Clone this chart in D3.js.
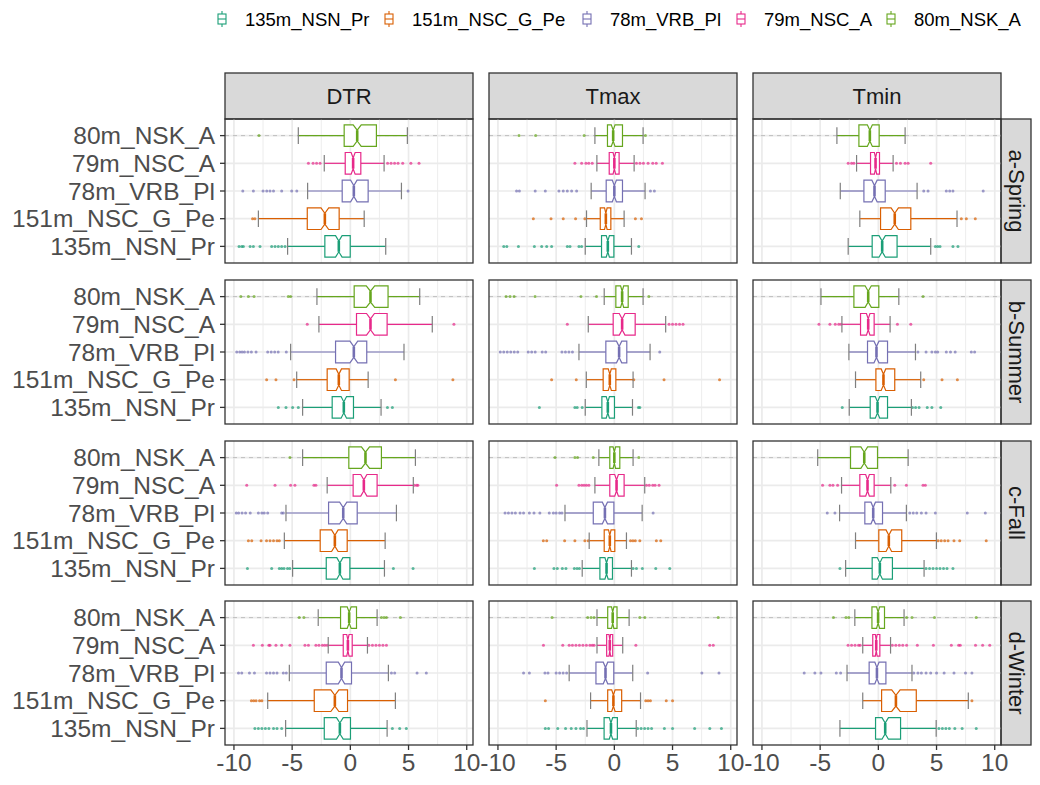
<!DOCTYPE html>
<html>
<head>
<meta charset="utf-8">
<script src="https://cdn.jsdelivr.net/npm/d3@7"></script>
<style>
  body { margin: 0; background: #fff; }
  text { font-family: "Liberation Sans", Arial, sans-serif; }
</style>
</head>
<body>
<div id="chart"></div>
<script>
// stations (bottom -> top on the y axis), facets and palette
var stations = ["135m_NSN_Pr", "151m_NSC_G_Pe", "78m_VRB_Pl", "79m_NSC_A", "80m_NSK_A"];
var variables = ["DTR", "Tmax", "Tmin"];
var seasons = ["a-Spring", "b-Summer", "c-Fall", "d-Winter"];
var colors = ["#1B9E77", "#D95F02", "#7570B3", "#E7298A", "#66A61E"];
var xTicks = [-10, -5, 0, 5, 10];
var nObs = [150, 170, 160, 150, 160]; // used for notch width, like ggplot

// box stats [lower whisker, q1, median, q3, upper whisker], per variable then station
var springStats = [
  [[-5.39, -2.19, -0.99, -0.01, 3.04], [-7.9, -3.7, -2.19, -0.96, 1.19], [-3.67, -0.7, 0.3, 1.53, 4.39], [-2.24, -0.44, 0.24, 0.9, 2.9], [-4.47, -0.53, 0.59, 2.24, 4.9]],
  [[-2.5, -1.1, -0.56, -0.04, 1.47], [-2.39, -1.21, -0.73, -0.3, 0.84], [-1.99, -0.7, 0, 0.7, 2.64], [-1.5, -0.44, 0, 0.41, 1.7], [-1.67, -0.59, -0.1, 0.7, 2.47]],
  [[-2.59, -0.53, 0.33, 1.61, 4.5], [-1.59, 0.19, 1.41, 2.79, 6.76], [-3.27, -1.24, -0.33, 0.59, 3.33], [-1.87, -0.67, -0.24, 0.1, 1.27], [-3.56, -1.67, -0.73, 0.07, 2.3]]
];
var summerStats = [
  [[-4.1, -1.56, -0.56, 0.27, 2.64], [-4.61, -1.99, -0.99, -0.1, 1.53], [-5.13, -1.27, 0.3, 1.41, 4.61], [-2.7, 0.53, 1.73, 3.16, 7.04], [-2.87, 0.33, 1.73, 3.24, 5.96]],
  [[-2.5, -1.07, -0.56, 0.01, 1.56], [-2.41, -0.96, -0.39, 0.13, 1.61], [-3.04, -0.73, 0.41, 1.07, 3.07], [-2.24, -0.1, 0.67, 1.79, 4.41], [-0.87, 0.13, 0.67, 1.19, 2.47]],
  [[-2.5, -0.7, -0.07, 0.79, 2.84], [-1.96, -0.21, 0.44, 1.41, 3.64], [-2.53, -0.93, -0.16, 0.79, 3.19], [-3.13, -1.53, -0.87, -0.36, 1.01], [-4.93, -2.1, -0.87, 0.04, 1.76]]
];
var fallStats = [
  [[-4.96, -2.07, -0.9, -0.04, 2.93], [-5.67, -2.59, -1.33, -0.27, 2.99], [-5.53, -1.87, -0.61, 0.59, 3.96], [-1.99, 0.24, 1.16, 2.3, 5.41], [-4.1, -0.13, 1.3, 2.67, 5.59]],
  [[-2.76, -1.24, -0.67, -0.16, 1.47], [-2.16, -0.87, -0.39, 0.04, 1.04], [-4.24, -1.81, -0.81, -0.04, 2.39], [-1.67, -0.39, 0.19, 0.84, 2.61], [-1.33, -0.39, 0, 0.47, 1.61]],
  [[-2.81, -0.53, 0.13, 1.21, 3.93], [-1.96, 0.04, 0.9, 2.01, 4.99], [-3.33, -1.16, -0.44, 0.36, 2.41], [-3.16, -1.59, -0.93, -0.36, 1.07], [-5.21, -2.39, -1.21, -0.07, 2.56]]
];
var winterStats = [
  [[-5.56, -2.24, -0.9, 0.01, 3.16], [-7.1, -3.1, -1.33, -0.24, 3.87], [-5.24, -2.07, -0.76, 0.1, 3.27], [-1.9, -0.61, -0.21, 0.16, 1.47], [-2.76, -0.84, -0.1, 0.53, 2.3]],
  [[-2.35, -0.88, -0.29, 0.26, 1.88], [-2.04, -0.57, -0.08, 0.63, 2.25], [-3.88, -1.58, -0.76, -0.05, 1.58], [-1.49, -0.66, -0.39, -0.14, 0.72], [-1.49, -0.57, -0.14, 0.23, 1.27]],
  [[-3.3, -0.24, 0.59, 1.91, 4.97], [-1.34, 0.28, 1.51, 3.26, 7.73], [-2.69, -0.79, -0.12, 0.65, 2.89], [-1.34, -0.48, -0.18, 0.13, 1.05], [-2.02, -0.55, -0.02, 0.53, 2.21]]
];

// outliers, per variable then station
var springOut = [
  [[-9.56, -9.33, -9.19, -8.61, -8.33, -7.76, -6.76, -6.47, -6.19, -5.9, -5.61], [-8.4, -8.2], [-9.24, -8.33, -7.5, -7.18, -6.9, -6.6, -5.9, -5.04, -4.6, 4.96], [-3.6, -3.2, -2.9, -2.6, 3.2, 3.5, 3.8, 4.1, 4.5, 5.2, 5.9], [-7.85]],
  [[-9.5, -9.24, -8.24, -6.87, -6.24, -5.81, -5.39, -4.04, -3.81, -3.04, -2.81, 2.1], [-6.96, -5.44, -4.39, -3.33, -2.53, 1.81, 2.33], [-8.4, -8.16, -6.8, -5.93, -4.76, -4.39, -4.04, -3.67, -3.24, 3.1, 3.44], [-3.39, -2.81, -2.44, -2.2, -1.9, 1.9, 2.2, 2.5, 2.9, 3.3, 3.6, 4.13], [-8.19, -6.76, -2.59, 2.67]],
  [[4.9, 5.1, 5.3, 6.41, 6.84], [7.13, 7.56, 8.33], [3.9, 4.27, 5.84, 6.13, 6.41, 9.01], [-2.59, -2.3, -2.1, 1.56, 1.9, 2.3, 2.56, 4.5], []]
];
var summerOut = [
  [[-6.19, -5.53, -4.96, -4.47, 3.19, 3.61], [-7.19, -6.39, -4.84, 3.87, 8.81], [-9.76, -9.5, -9.3, -9.1, -8.8, -8.5, -8.1, -7.1, -6.8, -6.5, -6.2, -5.5], [-3.7, 8.9], [-9.41, -8.76, -8.27, -5.33, -5.13]],
  [[-6.44, -3.39, -3.19, -2.76, 2.07, 2.19], [-5.39, -3.27, 1.67, 4.27, 9.04], [-9.8, -9.5, -9.2, -8.9, -8.6, -8.3, -7.4, -7.1, -6.8, -6.2, -5.9, -4.5, -4.2, -3.9, -3.6, 3.9], [-4.04, 4.7, 5.0, 5.3, 5.6, 5.9], [-9.3, -8.96, -8.61, -6.81, -2.87, -1.53, 2.96]],
  [[-3.1, 2.93, 3.2, 3.5, 4.2, 4.6, 5.36], [3.9, 5.47, 6.79], [3.4, 4.1, 4.6, 4.9, 5.1, 5.84, 6.2, 6.6, 7.99, 8.27], [-5.1, -4.16, -3.7, -3.4, -3.2, 1.64, 2.79], [3.84]]
];
var fallOut = [
  [[-8.84, -6.76, -6.1, -5.9, -5.7, -5.4, -5.2, 3.7, 5.39], [-8.76, -8.47, -7.67, -7.2, -6.9, -6.6, -6.3, -6.1], [-9.8, -9.6, -9.3, -9.0, -8.6, -7.9, -7.6, -7.4, -7.1, -5.9, -5.76], [-8.9, -6.47, -5.13, -4.76, -3.13, -2.96, 5.5, 5.7, 5.8], [-5.19]],
  [[-6.87, -5.19, -4.9, -4.47, -4.16, -3.44, -3.2, -3.0, 1.61, 1.9, 2.41, 3.56, 4.76], [-6.1, -5.81, -4.27, -3.39, -2.53, -2.24, 1.39, 1.6, 1.8, 2.19, 3.61, 3.99], [-9.39, -9.1, -8.8, -8.5, -8.1, -7.8, -7.3, -6.9, -6.4, -5.59, -5.24, -5.0, -4.7, -4.5, 3.33], [-4.96, -3.04, -2.8, -2.6, -2.4, -2.19, 2.76, 3.0, 3.3, 3.5, 3.84], [-5.1, -3.39, -3.16, -1.81, 2.1]],
  [[-3.3, 4.1, 4.4, 4.7, 5.0, 5.3, 5.6, 5.9, 6.41], [5.13, 5.4, 5.7, 5.99, 6.5, 6.99, 9.27], [-4.39, -3.73, 2.7, 3.0, 3.3, 3.7, 4.1, 4.9, 7.64, 9.19], [-4.79, -4.16, -3.9, -3.5, 1.41, 2.41, 3.84, 4.04], []]
];
var winterOut = [
  [[-8.2, -7.9, -7.6, -7.3, -7.0, -6.6, -6.3, -5.9, 3.61, 4.24, 4.81], [-8.5, -8.3, -8.1, -7.8, -7.6], [-9.61, -9.33, -8.67, -8.24, -7.2, -6.9, -6.6, -6.3, -5.76, -5.5, 3.53, 3.81, 5.73, 6.53], [-8.33, -7.56, -7.0, -6.9, -6.39, -5.9, -5.19, -3.9, -3.6, -2.96, -2.7, -2.4, -2.2, -1.99, 1.59, 1.9, 2.2, 2.5, 2.8, 3.1], [-4.39, -3.99, 2.67, 2.9, 3.1, 4.3]],
  [[-5.93, -5.65, -4.86, -4.19, -3.7, -3.3, -2.9, -2.65, 2.0, 2.3, 2.6, 2.9, 3.2, 4.3, 5.0, 6.9, 8.2, 9.2], [-5.93, 2.7, 2.9, 3.1, 4.46, 5.0], [-7.8, -7.3, -5.96, -5.7, -5.0, -4.7, -4.4, -4.1, 2.86, 7.52, 8.99], [-6.09, -4.43, -3.88, -3.6, -3.3, -3.0, -2.7, -2.4, -2.1, -1.9, -1.74, 1.85, 8.2, 8.5], [-5.35, -2.29, -2.0, -1.74, 2.19, 2.62, 8.93]],
  [[5.2, 5.5, 5.8, 6.1, 6.57, 7.2, 8.41], [8.04], [-6.37, -5.45, -4.93, -3.61, -3.24, 3.04, 3.4, 3.7, 4.1, 4.5, 5.0, 5.65, 6.5, 7.49, 8.04], [-2.6, -2.3, -2.0, -1.7, -1.56, 1.2, 1.5, 1.8, 2.1, 2.43, 3.35, 4.73, 6.27, 6.9, 7.04, 8.35, 8.96, 9.57], [-3.86, -2.78, -2.54, 2.43, 2.89, 4.82, 8.41]]
];

var allStats = [springStats, summerStats, fallStats, winterStats];
var allOut = [springOut, summerOut, fallOut, winterOut];

// layout
var width = 1040, height = 785;
var colLeft = [225, 489, 753], panelW = 248;
var rowTop = [119, 280, 441, 601], panelH = 144;
var stripTop = 73, stripRightW = 30;
var axisFont = 24.5, stripFont = 22, legendFont = 18.5;

var svg = d3.select("#chart").append("svg")
    .attr("width", width).attr("height", height)
    .style("background", "#fff");

// shared x scale with ggplot's 5% expansion
var vals = [];
allStats.forEach(function(s) { s.forEach(function(v) { v.forEach(function(b) { vals.push(b[0], b[4]); }); }); });
allOut.forEach(function(s) { s.forEach(function(v) { v.forEach(function(o) { vals = vals.concat(o); }); }); });
var ext = d3.extent(vals), pad = (ext[1] - ext[0]) * 0.05;
var x = d3.scaleLinear().domain([ext[0] - pad, ext[1] + pad]).range([0, panelW]);
var y = d3.scalePoint().domain(stations).range([panelH, 0]).padding(0.6);
var step = y.step();
var boxHalf = step * 0.39, capHalf = step * 0.3;

// top strips
variables.forEach(function(v, c) {
    svg.append("rect").attr("x", colLeft[c]).attr("y", stripTop)
        .attr("width", panelW).attr("height", rowTop[0] - stripTop)
        .attr("fill", "#D9D9D9").attr("stroke", "#333333").attr("stroke-width", 1.3);
    svg.append("text").attr("x", colLeft[c] + panelW / 2).attr("y", (stripTop + rowTop[0]) / 2)
        .attr("text-anchor", "middle").attr("dominant-baseline", "central")
        .style("font-size", stripFont + "px").attr("fill", "#1A1A1A").text(v);
});

// right strips
seasons.forEach(function(s, r) {
    var sx = colLeft[2] + panelW;
    svg.append("rect").attr("x", sx).attr("y", rowTop[r])
        .attr("width", stripRightW).attr("height", panelH)
        .attr("fill", "#D9D9D9").attr("stroke", "#333333").attr("stroke-width", 1.3);
    svg.append("text")
        .attr("transform", "translate(" + (sx + stripRightW / 2) + "," + (rowTop[r] + panelH / 2) + ") rotate(90)")
        .attr("text-anchor", "middle").attr("dominant-baseline", "central")
        .style("font-size", stripFont + "px").attr("fill", "#1A1A1A").text(s);
});

// panels
seasons.forEach(function(s, r) {
    variables.forEach(function(v, c) {
        var g = svg.append("g").attr("transform", "translate(" + colLeft[c] + "," + rowTop[r] + ")");

        // grid
        g.selectAll("line.minor").data([-7.5, -2.5, 2.5, 7.5]).enter().append("line")
            .attr("x1", function(d) { return x(d); }).attr("x2", function(d) { return x(d); })
            .attr("y1", 0).attr("y2", panelH).attr("stroke", "#EBEBEB").attr("stroke-width", 0.9);
        g.selectAll("line.majx").data(xTicks).enter().append("line")
            .attr("x1", function(d) { return x(d); }).attr("x2", function(d) { return x(d); })
            .attr("y1", 0).attr("y2", panelH).attr("stroke", "#EBEBEB").attr("stroke-width", 1.7);
        g.selectAll("line.majy").data(stations).enter().append("line")
            .attr("x1", 0).attr("x2", panelW)
            .attr("y1", function(d) { return y(d); }).attr("y2", function(d) { return y(d); })
            .attr("stroke", "#EBEBEB").attr("stroke-width", 1.7);

        // dashed reference at the top station
        g.append("line").attr("x1", 0).attr("x2", panelW)
            .attr("y1", y(stations[4])).attr("y2", y(stations[4]))
            .attr("stroke", "#BEBEBE").attr("stroke-width", 1).attr("stroke-dasharray", "4,4");

        var stats = allStats[r][c], outs = allOut[r][c];

        stations.forEach(function(st, i) {
            var b = stats[i], cy = y(st), col = colors[i];
            var notch = 1.58 * (b[3] - b[1]) / Math.sqrt(nObs[i]);
            var bg = g.append("g");

            // outliers
            bg.selectAll("circle").data(outs[i]).enter().append("circle")
                .attr("cx", function(d) { return x(d); }).attr("cy", cy).attr("r", 1.5)
                .attr("fill", col).attr("fill-opacity", 0.7);

            // whiskers
            bg.append("line").attr("x1", x(b[0])).attr("x2", x(b[1])).attr("y1", cy).attr("y2", cy)
                .attr("stroke", col).attr("stroke-width", 1.2);
            bg.append("line").attr("x1", x(b[3])).attr("x2", x(b[4])).attr("y1", cy).attr("y2", cy)
                .attr("stroke", col).attr("stroke-width", 1.2);
            // caps
            [b[0], b[4]].forEach(function(w) {
                bg.append("line").attr("x1", x(w)).attr("x2", x(w))
                    .attr("y1", cy - capHalf).attr("y2", cy + capHalf)
                    .attr("stroke", "#7F7F7F").attr("stroke-width", 1.2);
            });

            // notched box
            var t = cy - boxHalf, bt = cy + boxHalf, h2 = boxHalf / 2;
            var pts = [
                [x(b[1]), t], [x(b[2] - notch), t], [x(b[2]), cy - h2], [x(b[2] + notch), t], [x(b[3]), t],
                [x(b[3]), bt], [x(b[2] + notch), bt], [x(b[2]), cy + h2], [x(b[2] - notch), bt], [x(b[1]), bt]
            ];
            bg.append("path").attr("d", d3.line()(pts) + "Z")
                .attr("fill", "#fff").attr("stroke", col).attr("stroke-width", 1.2)
                .attr("stroke-linejoin", "miter");
            // median
            bg.append("line").attr("x1", x(b[2])).attr("x2", x(b[2]))
                .attr("y1", cy - h2).attr("y2", cy + h2)
                .attr("stroke", col).attr("stroke-width", 2.6);
        });

        // panel border
        g.append("rect").attr("width", panelW).attr("height", panelH)
            .attr("fill", "none").attr("stroke", "#333333").attr("stroke-width", 1.3);

        // y axis
        if (c === 0) {
            stations.forEach(function(st) {
                g.append("line").attr("x1", -5).attr("x2", 0).attr("y1", y(st)).attr("y2", y(st))
                    .attr("stroke", "#333333").attr("stroke-width", 1.3);
                g.append("text").attr("x", -10).attr("y", y(st))
                    .attr("text-anchor", "end").attr("dominant-baseline", "central")
                    .style("font-size", axisFont + "px").attr("fill", "#4D4D4D").text(st);
            });
        }
        // x axis
        if (r === seasons.length - 1) {
            xTicks.forEach(function(t) {
                g.append("line").attr("x1", x(t)).attr("x2", x(t)).attr("y1", panelH).attr("y2", panelH + 5)
                    .attr("stroke", "#333333").attr("stroke-width", 1.3);
                g.append("text").attr("x", x(t)).attr("y", panelH + 8)
                    .attr("text-anchor", "middle").attr("dominant-baseline", "hanging")
                    .style("font-size", axisFont + "px").attr("fill", "#4D4D4D").text(t);
            });
        }
    });
});

// legend
var legendKeyX = [222, 389, 587, 741, 891];
var legendY = 19;
stations.forEach(function(st, i) {
    var lg = svg.append("g").attr("transform", "translate(" + legendKeyX[i] + "," + legendY + ")");
    lg.append("line").attr("x1", 0).attr("x2", 0).attr("y1", -8).attr("y2", 8)
        .attr("stroke", colors[i]).attr("stroke-width", 1.1);
    lg.append("rect").attr("x", -4).attr("y", -5).attr("width", 8).attr("height", 10)
        .attr("fill", "#fff").attr("stroke", colors[i]).attr("stroke-width", 1.1);
    lg.append("line").attr("x1", -4).attr("x2", 4).attr("y1", 0).attr("y2", 0)
        .attr("stroke", colors[i]).attr("stroke-width", 1.1);
    lg.append("text").attr("x", 23).attr("y", 0).attr("dominant-baseline", "central")
        .style("font-size", legendFont + "px").attr("fill", "#000").text(st);
});
</script>
</body>
</html>
